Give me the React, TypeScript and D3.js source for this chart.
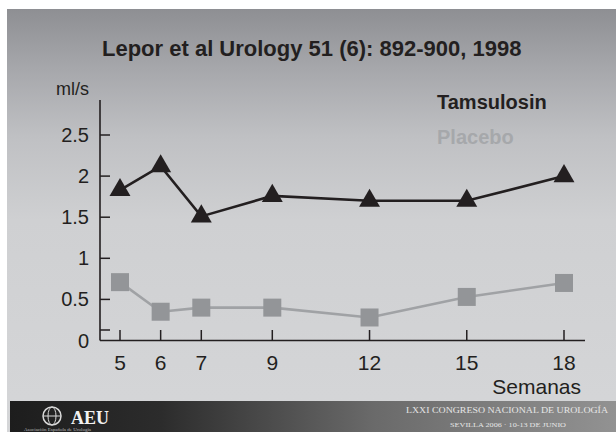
import React, { useEffect, useRef } from 'react';
import * as d3 from 'd3';

const weeks = [5, 6, 7, 9, 12, 15, 18];
const tamsulosin = [1.83, 2.12, 1.51, 1.76, 1.7, 1.7, 2.0];
const placebo = [0.71, 0.35, 0.4, 0.4, 0.28, 0.53, 0.7];
const yTicks = [0.5, 1, 1.5, 2, 2.5];
const yLabels = ['0', '0.5', '1', '1.5', '2', '2.5'];

const title = 'Lepor et al Urology 51 (6): 892-900, 1998';
const seriesNames = ['Tamsulosin', 'Placebo'];

const W = 616;
const H = 432;

const App: React.FC = () => {
  const svgRef = useRef<SVGSVGElement>(null);

  useEffect(() => {
    if (!svgRef.current) return;
    const svg = d3.select(svgRef.current);
    svg.selectAll('*').remove();

    const defs = svg.append('defs');
    const bg = defs.append('linearGradient').attr('id', 'bg').attr('x1', 0).attr('y1', 0).attr('x2', 0).attr('y2', 1);
    [[0, '#8e8f93'], [0.14, '#a6a7ab'], [0.3, '#bfc0c3'], [0.5, '#cfd0d2'], [1, '#d5d6d8']].forEach(([o, c]) => {
      bg.append('stop').attr('offset', o as number).attr('stop-color', c as string);
    });
    const foot = defs.append('linearGradient').attr('id', 'foot').attr('x1', 0).attr('y1', 0).attr('x2', 1).attr('y2', 0);
    [[0, '#1d1d1d'], [0.25, '#2c2c2c'], [0.6, '#6a6a6a'], [1, '#929292']].forEach(([o, c]) => {
      foot.append('stop').attr('offset', o as number).attr('stop-color', c as string);
    });

    svg.append('rect').attr('width', W).attr('height', H).attr('fill', '#fff');
    svg.append('rect').attr('x', 7).attr('y', 9).attr('width', W - 7).attr('height', H - 9).attr('fill', 'url(#bg)');
    svg.append('rect').attr('x', 10).attr('y', 401).attr('width', W - 10).attr('height', 31).attr('fill', 'url(#foot)');

    // x axis is not evenly spaced in the original slide
    const x = d3.scaleLinear().domain([5, 7, 9, 18]).range([120, 201.3, 272.3, 564]);
    const y = d3.scaleLinear().domain([0, 2.5]).range([340.5, 135]);
    const ink = '#231f20';
    const sans = '"Liberation Sans", Arial, Helvetica, sans-serif';

    svg.append('text')
      .attr('x', 102).attr('y', 56)
      .attr('font-family', sans).attr('font-size', 22).attr('font-weight', 'bold')
      .attr('fill', ink)
      .text(title);

    const chart = svg.append('g');

    // axes
    chart.append('line').attr('x1', 100).attr('x2', 100).attr('y1', 100).attr('y2', y(0))
      .attr('stroke', ink).attr('stroke-width', 1.6);
    chart.append('line').attr('x1', 100).attr('x2', 585).attr('y1', y(0)).attr('y2', y(0))
      .attr('stroke', ink).attr('stroke-width', 1.6);

    chart.selectAll('line.yt').data(yTicks).join('line')
      .attr('class', 'yt')
      .attr('x1', 100).attr('x2', 110)
      .attr('y1', d => y(d)).attr('y2', d => y(d))
      .attr('stroke', ink).attr('stroke-width', 1.5);
    // stray low tick just above the baseline
    chart.append('line').attr('x1', 100).attr('x2', 110).attr('y1', y(0) - 10.5).attr('y2', y(0) - 10.5)
      .attr('stroke', ink).attr('stroke-width', 1.5);

    chart.selectAll('line.xt').data(weeks).join('line')
      .attr('class', 'xt')
      .attr('x1', d => x(d)).attr('x2', d => x(d))
      .attr('y1', y(0)).attr('y2', y(0) - 10.5)
      .attr('stroke', ink).attr('stroke-width', 1.5);

    chart.selectAll('text.yl').data(yLabels).join('text')
      .attr('class', 'yl')
      .attr('x', 89)
      .attr('y', d => y(+d) + 7)
      .attr('text-anchor', 'end')
      .attr('font-family', sans).attr('font-size', 20).attr('fill', ink)
      .text(d => d);

    chart.selectAll('text.xl').data(weeks).join('text')
      .attr('class', 'xl')
      .attr('x', d => x(d))
      .attr('y', 370)
      .attr('text-anchor', 'middle')
      .attr('font-family', sans).attr('font-size', 21).attr('fill', ink)
      .text(d => String(d));

    chart.append('text').attr('x', 89).attr('y', 95).attr('text-anchor', 'end')
      .attr('font-family', sans).attr('font-size', 18).attr('fill', ink).text('ml/s');
    chart.append('text').attr('x', 581).attr('y', 394).attr('text-anchor', 'end')
      .attr('font-family', sans).attr('font-size', 21).attr('fill', ink).text('Semanas');

    // series
    const line = d3.line<number>().x((_, i) => x(weeks[i])).y(d => y(d));
    const placeboLine = '#a0a2a5';
    const placeboMark = '#939598';

    chart.append('path').datum(placebo).attr('d', line)
      .attr('fill', 'none').attr('stroke', placeboLine).attr('stroke-width', 2.6);
    chart.selectAll('path.sq').data(placebo).join('path')
      .attr('class', 'sq')
      .attr('transform', (d, i) => `translate(${x(weeks[i])},${y(d)})`)
      .attr('d', d3.symbol().type(d3.symbolSquare).size(324)())
      .attr('fill', placeboMark);

    chart.append('path').datum(tamsulosin).attr('d', line)
      .attr('fill', 'none').attr('stroke', ink).attr('stroke-width', 2.6);
    chart.selectAll('path.tri').data(tamsulosin).join('path')
      .attr('class', 'tri')
      .attr('transform', (d, i) => `translate(${x(weeks[i])},${y(d)})`)
      .attr('d', d3.symbol().type(d3.symbolTriangle).size(190)())
      .attr('fill', ink);

    // legend
    svg.selectAll('text.lg').data(seriesNames).join('text')
      .attr('class', 'lg')
      .attr('x', 437)
      .attr('y', (_, i) => 109 + i * 35)
      .attr('font-family', sans).attr('font-size', 20).attr('font-weight', 'bold')
      .attr('fill', (_, i) => (i === 0 ? ink : '#a6a8ab'))
      .text(d => d);

    // footer
    const logo = svg.append('g').attr('transform', 'translate(52,416)');
    logo.append('circle').attr('r', 9).attr('fill', 'none').attr('stroke', '#d8d8d8').attr('stroke-width', 1.5);
    logo.append('ellipse').attr('rx', 4).attr('ry', 9).attr('fill', 'none').attr('stroke', '#d8d8d8').attr('stroke-width', 1);
    logo.append('line').attr('x1', -9).attr('x2', 9).attr('stroke', '#d8d8d8').attr('stroke-width', 1);
    svg.append('text').attr('x', 71).attr('y', 424)
      .attr('font-family', '"Liberation Serif", "Times New Roman", serif').attr('font-size', 18).attr('font-weight', 'bold')
      .attr('fill', '#f2f2f2').text('AEU');
    svg.append('text').attr('x', 24).attr('y', 431)
      .attr('font-family', '"Liberation Serif", serif').attr('font-size', 5).attr('fill', '#bbbbbb')
      .text('Asociación Española de Urología');
    svg.append('text').attr('x', 406).attr('y', 413)
      .attr('textLength', 202).attr('lengthAdjust', 'spacingAndGlyphs')
      .attr('font-family', '"Liberation Serif", serif').attr('font-size', 8.5).attr('fill', '#e6e6e6')
      .text('LXXI CONGRESO NACIONAL DE UROLOGÍA');
    svg.append('text').attr('x', 450).attr('y', 427)
      .attr('textLength', 116).attr('lengthAdjust', 'spacingAndGlyphs')
      .attr('font-family', '"Liberation Serif", serif').attr('font-size', 7).attr('fill', '#e6e6e6')
      .text('SEVILLA 2006 · 10-13 DE JUNIO');
  }, []);

  return (
    <svg ref={svgRef} width={W} height={H} style={{ position: 'absolute', left: 0, top: 0 }}></svg>
  );
};

export default App;
